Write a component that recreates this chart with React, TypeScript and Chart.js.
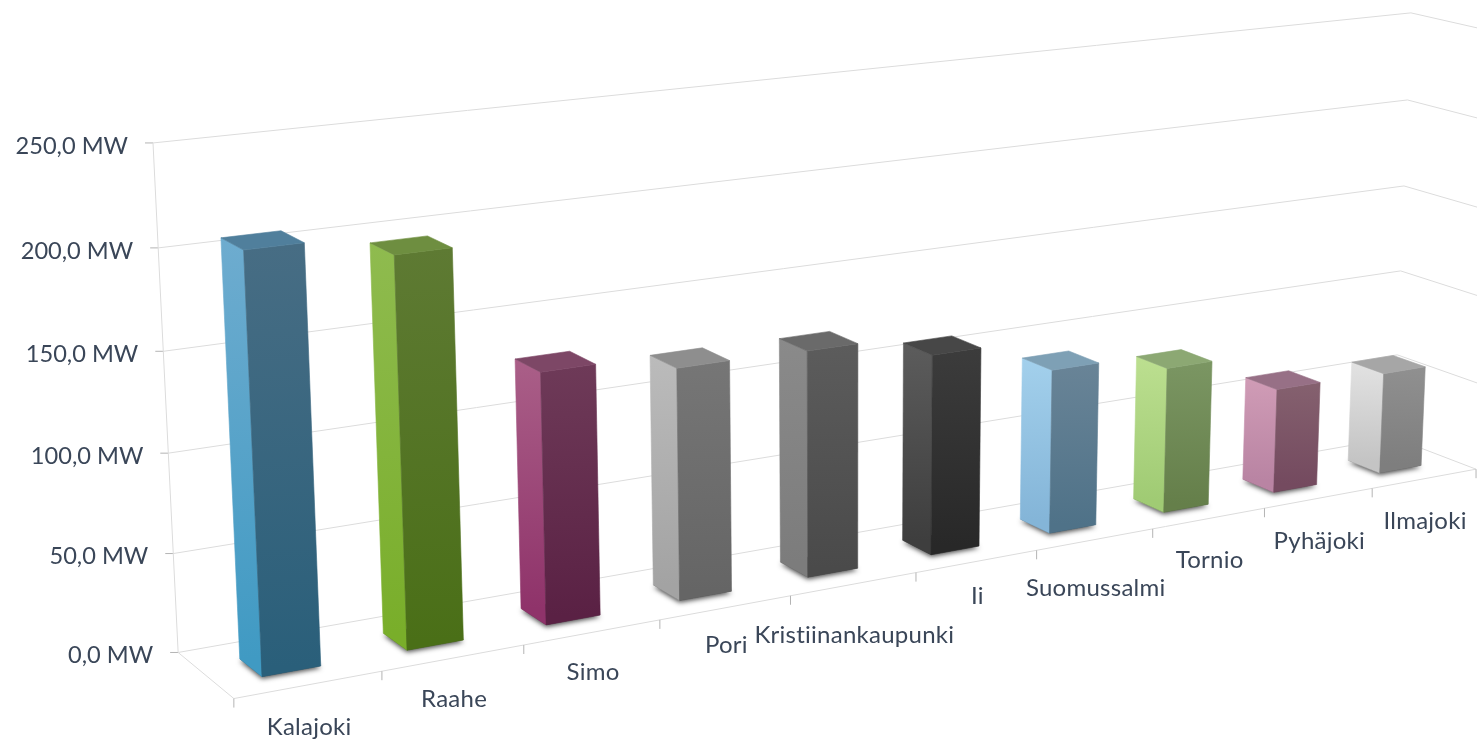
import React, { useEffect, useRef } from "react";
import { Chart, registerables } from "chart.js";

Chart.register(...registerables);

// ---- data -------------------------------------------------------------
const categories = ["Kalajoki", "Raahe", "Simo", "Pori", "Kristiinankaupunki", "Ii", "Suomussalmi", "Tornio", "Pyhäjoki", "Ilmajoki"];
const capacityMW = [207, 196, 129, 121, 120, 108, 90, 81, 59, 58];
const axisMax = 250;
const axisStep = 50;

// ---- styles -------------------------------------------------------------
const leftTop = ["#6eaccf", "#8fbb4f", "#aa5f88", "#bbbbbb", "#8a8a8a", "#5c5c5c", "#a3d0ec", "#bcdf90", "#d09cb6", "#e2e2e2"];
const leftBottom = ["#409ac3", "#79ae2a", "#8f336a", "#a3a3a3", "#7c7c7c", "#3e3e3e", "#84b5d8", "#a0cb74", "#b984a3", "#c4c4c4"];
const frontTop = ["#476d84", "#5e7a33", "#6e3a58", "#767676", "#5c5c5c", "#3c3c3c", "#698497", "#7b9663", "#85616f", "#909090"];
const frontBottom = ["#2a5f7a", "#4a6f17", "#5a2144", "#656565", "#4a4a4a", "#282828", "#4f7288", "#657f4a", "#744a5f", "#7e7e7e"];
const topFace = ["#507f9c", "#6e8e40", "#7d4766", "#8e8e8e", "#6a6a6a", "#474747", "#7ea0b5", "#8ca873", "#977086", "#a6a6a6"];
const labelDrop = [43, 41, 40, 38, 51, 35, 49, 42, 43, 43];
const textColor = "#3a4658";

// ---- perspective: (u along categories, v up the value axis, w into depth)
const anchors: [number, number, number, number, number][] = [
  [0, 0, 1, 178, 652],
  [0, 1, 1, 153, 143],
  [1, 1, 1, 1411, 13],
  [1, 0, 1, 1394, 438],
  [0, 0, 0, 234, 699],
  [1, 0, 0, 1476, 469],
  [1, 1, 0, 1496, 32],
];

function solveCamera(): number[] {
  const rows: number[][] = [];
  const rhs: number[] = [];
  anchors.forEach(([X, Y, Z, px, py]) => {
    const x = px / 1000;
    const y = py / 1000;
    rows.push([X, Y, Z, 1, 0, 0, 0, 0, -x * X, -x * Y, -x * Z]);
    rhs.push(x);
    rows.push([0, 0, 0, 0, X, Y, Z, 1, -y * X, -y * Y, -y * Z]);
    rhs.push(y);
  });
  const n = 11;
  const A: number[][] = [];
  for (let i = 0; i < n; i++) {
    A.push(new Array(n + 1).fill(0));
    for (let j = 0; j < n; j++) rows.forEach((r) => (A[i][j] += r[i] * r[j]));
    rows.forEach((r, k) => (A[i][n] += r[i] * rhs[k]));
  }
  for (let c = 0; c < n; c++) {
    let piv = c;
    for (let r = c + 1; r < n; r++) if (Math.abs(A[r][c]) > Math.abs(A[piv][c])) piv = r;
    [A[c], A[piv]] = [A[piv], A[c]];
    for (let r = 0; r < n; r++) {
      if (r === c) continue;
      const f = A[r][c] / A[c][c];
      for (let k = c; k <= n; k++) A[r][k] -= f * A[c][k];
    }
  }
  return A.map((row, i) => row[n] / row[i]);
}
const cam = solveCamera();
function project(u: number, v: number, w: number): [number, number] {
  const d = cam[8] * u + cam[9] * v + cam[10] * w + 1;
  return [
    (1000 * (cam[0] * u + cam[1] * v + cam[2] * w + cam[3])) / d,
    (1000 * (cam[4] * u + cam[5] * v + cam[6] * w + cam[7])) / d,
  ];
}

function poly(ctx: CanvasRenderingContext2D, pts: [number, number][]) {
  ctx.beginPath();
  pts.forEach((p, i) => (i ? ctx.lineTo(p[0], p[1]) : ctx.moveTo(p[0], p[1])));
  ctx.closePath();
}
function paint(ctx: CanvasRenderingContext2D, pts: [number, number][], style: any) {
  poly(ctx, pts);
  ctx.fillStyle = style;
  ctx.strokeStyle = style;
  ctx.lineWidth = 0.6;
  ctx.fill();
  ctx.stroke();
}
function seg(ctx: CanvasRenderingContext2D, a: [number, number], b: [number, number], color: string) {
  ctx.strokeStyle = color;
  ctx.lineWidth = 1;
  ctx.beginPath();
  ctx.moveTo(a[0], a[1]);
  ctx.lineTo(b[0], b[1]);
  ctx.stroke();
}

const DEPTH_FRONT = 0.29;
const DEPTH_BACK = 0.68;
const GRID = "#dcdcdc";
const TICK = "#b4b4b4";

const perspectivePlugin = {
  id: "perspective",
  beforeDatasetsDraw(chart: any) {
    const { ctx, chartArea: ca, scales } = chart;
    const yS = scales.y;
    const xS = scales.x;
    const vOf = (py: number) => (ca.bottom - py) / (ca.bottom - ca.top);
    ctx.save();
    // value grid on back and right walls, with axis labels
    yS.ticks.forEach((t: any, i: number) => {
      const v = vOf(yS.getPixelForTick(i));
      const a = project(0, v, 1);
      seg(ctx, a, project(1, v, 1), GRID);
      seg(ctx, project(1, v, 1), project(1, v, 0), GRID);
      seg(ctx, [a[0] - 8, a[1]], a, TICK);
      ctx.fillStyle = textColor;
      ctx.font = "23.6px Lato";
      ctx.textAlign = "right";
      ctx.textBaseline = "middle";
      ctx.fillText(t.label, a[0] - 25, a[1] + 3);
    });
    seg(ctx, project(0, 0, 1), project(0, 1, 1), GRID);
    seg(ctx, project(0, 0, 0), project(0, 0, 1), GRID);
    seg(ctx, project(0, 0, 0), project(1, 0, 0), GRID);
    // category ticks and labels on the front floor edge
    const n = categories.length;
    const step = ca.width / n;
    for (let i = 0; i <= n; i++) {
      const px = xS.getPixelForValue(0) + (i - 0.5) * step;
      const p = project((px - ca.left) / ca.width, 0, 0);
      seg(ctx, p, [p[0], p[1] + 9], TICK);
    }
    (ctx as any).letterSpacing = "0.25px";
    xS.ticks.forEach((t: any, i: number) => {
      const u = (xS.getPixelForTick(i) - ca.left) / ca.width;
      const p = project(u, 0, 0);
      ctx.fillStyle = textColor;
      ctx.font = "24px Lato";
      ctx.textAlign = "center";
      ctx.textBaseline = "middle";
      ctx.fillText(categories[i], p[0] + 0.5, p[1] + labelDrop[i]);
    });
    (ctx as any).letterSpacing = "0px";
    ctx.restore();
  },
  beforeDatasetDraw(chart: any, args: any) {
    const { ctx, chartArea: ca } = chart;
    const vOf = (py: number) => (ca.bottom - py) / (ca.bottom - ca.top);
    args.meta.data.forEach((el: any, i: number) => {
      const u0 = (el.x - el.width / 2 - ca.left) / ca.width;
      const u1 = (el.x + el.width / 2 - ca.left) / ca.width;
      const vb = vOf(el.base);
      const vt = vOf(el.y);
      const flb = project(u0, vb, DEPTH_FRONT);
      const frb = project(u1, vb, DEPTH_FRONT);
      const blb = project(u0, vb, DEPTH_BACK);
      const brb = project(u1, vb, DEPTH_BACK);
      const flt = project(u0, vt, DEPTH_FRONT);
      const frt = project(u1, vt, DEPTH_FRONT);
      const blt = project(u0, vt, DEPTH_BACK);
      const brt = project(u1, vt, DEPTH_BACK);
      ctx.save();
      // contact shadow
      ctx.shadowColor = "rgba(0,0,0,0.7)";
      ctx.shadowBlur = 5;
      ctx.shadowOffsetY = 2;
      ctx.fillStyle = "#444";
      poly(ctx, [flb, frb, brb, blb]);
      ctx.fill();
      ctx.restore();
      // left face
      let g = ctx.createLinearGradient(blt[0], blt[1], blb[0], blb[1]);
      g.addColorStop(0, leftTop[i]);
      g.addColorStop(1, leftBottom[i]);
      paint(ctx, [blb, flb, flt, blt], g);
      // front face
      g = ctx.createLinearGradient(frt[0], frt[1], frb[0], frb[1]);
      g.addColorStop(0, frontTop[i]);
      g.addColorStop(1, frontBottom[i]);
      paint(ctx, [flb, frb, frt, flt], g);
      // top face
      paint(ctx, [flt, frt, brt, blt], topFace[i]);
    });
    return false;
  },
};

export default function App() {
  const ref = useRef<HTMLCanvasElement>(null);
  useEffect(() => {
    const chart = new Chart(ref.current!, {
      type: "bar",
      data: {
        labels: categories,
        datasets: [{ label: "MW", data: capacityMW, barPercentage: 0.4, categoryPercentage: 1 }],
      },
      options: {
        animation: false,
        responsive: false,
        layout: { padding: 0 },
        plugins: { legend: { display: false }, tooltip: { enabled: false } },
        scales: {
          x: { grid: { display: false }, border: { display: false }, ticks: { display: false } },
          y: {
            min: 0,
            max: axisMax,
            grid: { display: false },
            border: { display: false },
            ticks: {
              display: false,
              stepSize: axisStep,
              callback: (v: any) => `${Number(v).toFixed(1).replace(".", ",")} MW`,
            },
          },
        },
      },
      plugins: [perspectivePlugin],
    } as any);
    return () => chart.destroy();
  }, []);
  return (
    <div style={{ position: "absolute", left: 0, top: 0, width: 1477, height: 741, background: "#fff" }}>
      <canvas ref={ref} width={1477} height={741} style={{ display: "block" }} />
    </div>
  );
}
